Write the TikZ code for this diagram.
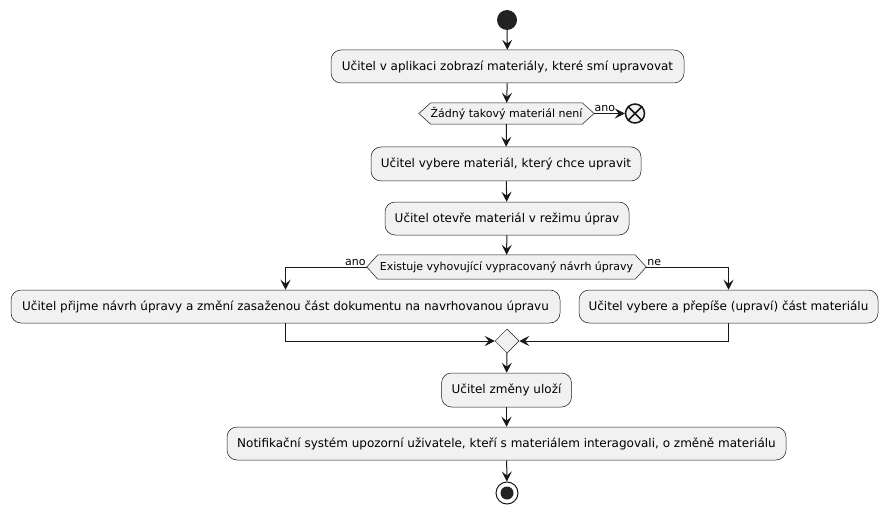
\documentclass[tikz,border=0pt]{standalone}
\usepackage{fontspec}
\setmainfont{DejaVu Sans}
\usetikzlibrary{shapes.geometric,arrows.meta,calc}
\definecolor{linec}{HTML}{181818}
\definecolor{boxfill}{HTML}{F1F1F1}
\definecolor{startc}{HTML}{222222}
\begin{document}
\begin{tikzpicture}[x=1pt,y=-1pt,
  actbox/.style={draw=linec, fill=boxfill, rounded corners=10pt, line width=0.5pt, inner sep=0pt, font=\fontsize{12}{14}\selectfont, align=center},
  dtext/.style={inner sep=0pt, font=\fontsize{11}{13}\selectfont},
  hexa/.style={draw=linec, fill=boxfill, line width=0.5pt},
  arr/.style={draw=linec, line width=1pt, -{Stealth[length=10pt,width=10pt,inset=4pt]}},
  lbl/.style={font=\fontsize{11}{13}\selectfont, inner sep=1pt}]
\useasboundingbox (0,0) rectangle (888,513);
\fill[white] (0,0) rectangle (888,513);

\node[circle, fill=startc, minimum size=20pt, inner sep=0pt] (start) at (507,20) {};
\node[actbox, minimum width=353pt, minimum height=33pt] (b1) at (507.5,66.5) {Učitel v aplikaci zobrazí materiály, které smí upravovat};

\node[dtext, minimum width=175pt, minimum height=21pt] (d1) at (506.5,113.5) {};
\draw[hexa] (d1.west) -- ($(d1.north west)+(12,0)$) -- ($(d1.north east)+(-12,0)$) -- (d1.east) -- ($(d1.south east)+(-12,0)$) -- ($(d1.south west)+(12,0)$) -- cycle;
\node[dtext] at (d1) {Žádný takový materiál není};

\node[circle, draw=linec, fill=boxfill, line width=1.5pt, minimum size=19pt, inner sep=0pt] (endx) at (635,113.5) {};
\draw[linec, line width=1.5pt] (endx.north east) -- (endx.south west) (endx.north west) -- (endx.south east);

\node[actbox, minimum width=270pt, minimum height=34pt] (b2) at (506,164) {Učitel vybere materiál, který chce upravit};
\node[actbox, minimum width=244pt, minimum height=33pt] (b3) at (507,218.5) {Učitel otevře materiál v režimu úprav};

\node[dtext, minimum width=279pt, minimum height=24pt] (d2) at (506.5,267) {};
\draw[hexa] (d2.west) -- ($(d2.north west)+(11,0)$) -- ($(d2.north east)+(-11,0)$) -- (d2.east) -- ($(d2.south east)+(-11,0)$) -- ($(d2.south west)+(11,0)$) -- cycle;
\node[dtext] at (d2) {Existuje vyhovující vypracovaný návrh úpravy};

\node[actbox, minimum width=549pt, minimum height=33pt] (bl) at (285.5,306.5) {Učitel přijme návrh úpravy a změní zasaženou část dokumentu na navrhovanou úpravu};
\node[actbox, minimum width=299pt, minimum height=33pt] (br) at (728.5,306.5) {Učitel vybere a přepíše (upraví) část materiálu};

\node[diamond, draw=linec, fill=boxfill, line width=0.5pt, minimum width=24pt, minimum height=24pt, inner sep=0pt] (m) at (507,341) {};

\node[actbox, minimum width=130pt, minimum height=34pt] (b4) at (506.5,390) {Učitel změny uloží};
\node[actbox, minimum width=559pt, minimum height=33pt] (b5) at (506.5,443.5) {Notifikační systém upozorní uživatele, kteří s materiálem interagovali, o změně materiálu};

\node[circle, draw=linec, fill=white, line width=1pt, minimum size=22pt, inner sep=0pt] (stop) at (507,493) {};
\node[circle, fill=startc, minimum size=13pt, inner sep=0pt] (stopin) at (stop) {};

\draw[arr] (start) -- (b1);
\draw[arr] (b1) -- (d1);
\draw[arr] (d1.east) -- node[lbl, above, pos=0.35] {ano} (endx.west);
\draw[arr] (d1) -- (b2);
\draw[arr] (b2) -- (b3);
\draw[arr] (b3) -- (d2);
\draw[arr] (d2.west) -| (bl.north);
\node[lbl, above left, inner sep=1pt] at (d2.west) {ano};
\draw[arr] (d2.east) -| (br.north);
\node[lbl, above right, inner sep=1pt] at (d2.east) {ne};
\draw[arr] (bl.south) |- (m.west);
\draw[arr] (br.south) |- (m.east);
\draw[arr] (m) -- (b4);
\draw[arr] (b4) -- (b5);
\draw[arr] (b5) -- (stop);
\end{tikzpicture}
\end{document}
